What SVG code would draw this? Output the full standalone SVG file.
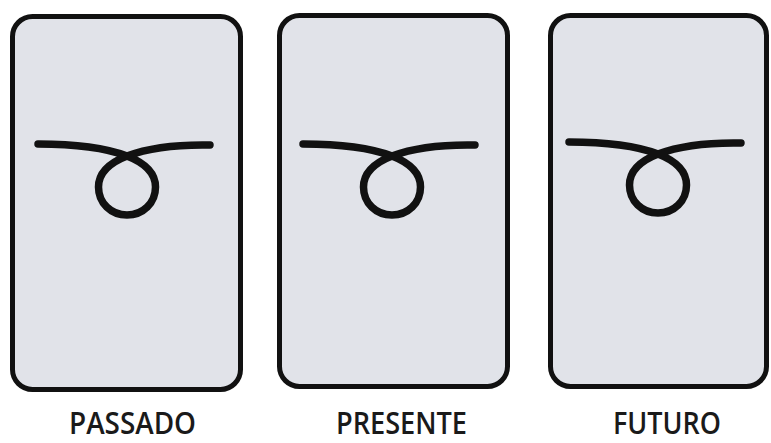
<svg xmlns="http://www.w3.org/2000/svg" xmlns:xlink="http://www.w3.org/1999/xlink" width="771" height="443" viewBox="0 0 771 443">
<defs>
<style>
.card{fill:#e1e3e9;stroke:#111;stroke-width:5}
.loop{fill:none;stroke:#111;stroke-width:7.5;stroke-linecap:round;stroke-linejoin:round}
.lbl{font-family:"Open Sans","DejaVu Sans",sans-serif;font-size:31px;font-weight:600;fill:#1a1a1a;text-anchor:middle}
</style>
<path id="loopSym" class="loop" d="M38,144 Q95,144 127,156 C145,163 155.5,173 155.5,187 C155.5,203 143,215 127,215 C111,215 98.5,203 98.5,187 C98.5,173 109,163 127,156 Q159,144 210,145"/>
</defs>
<rect width="771" height="443" fill="#fff"/>
<g id="card-passado">
<rect class="card" x="12.5" y="16.5" width="228" height="373" rx="20"/>
<use xlink:href="#loopSym"/>
<text class="lbl" x="132.5" y="434" textLength="127" lengthAdjust="spacingAndGlyphs">PASSADO</text>
</g>
<g id="card-presente">
<rect class="card" x="279.5" y="15.5" width="228" height="371" rx="20"/>
<use xlink:href="#loopSym" transform="translate(265,0)"/>
<text class="lbl" x="401.5" y="434" textLength="131" lengthAdjust="spacingAndGlyphs">PRESENTE</text>
</g>
<g id="card-futuro">
<rect class="card" x="550.5" y="15.5" width="216" height="371" rx="20"/>
<use xlink:href="#loopSym" transform="translate(531,-2)"/>
<text class="lbl" x="667" y="434" textLength="108" lengthAdjust="spacingAndGlyphs">FUTURO</text>
</g>
<g id="connectors"/>
</svg>
